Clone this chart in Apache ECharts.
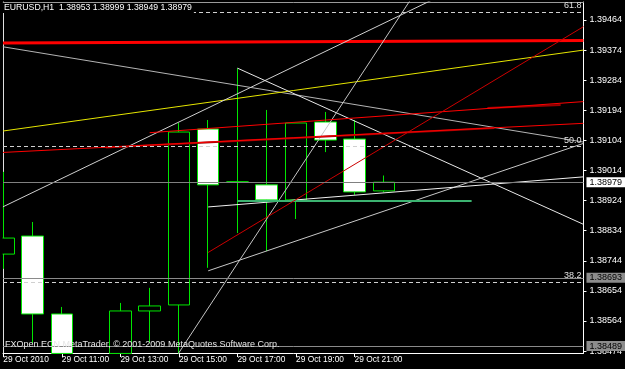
<!DOCTYPE html>
<html><head><meta charset="utf-8">
<script src="https://cdn.jsdelivr.net/npm/echarts@6/dist/echarts.min.js"></script>
<style>html,body{margin:0;padding:0;background:#000;}#c{width:625px;height:369px;}</style>
</head><body><div id="c"></div>
<script>
// ---- data ----
const symbolName = 'EURUSD,H1';
const hours  = [9, 10, 11, 12, 13, 14, 15, 16, 17, 18, 19, 20, 21, 22];
const opens  = [1.38764, 1.38818, 1.38585, 1.38440, 1.38467, 1.38594, 1.38612, 1.39138, 1.38980, 1.38971, 1.38926, 1.39159, 1.39108, 1.38953];
const highs  = [1.39010, 1.38860, 1.38606, 1.38462, 1.38618, 1.38663, 1.39156, 1.39165, 1.39320, 1.39195, 1.39156, 1.39189, 1.39165, 1.38999];
const lows   = [1.38720, 1.38498, 1.38466, 1.38420, 1.38466, 1.38498, 1.38466, 1.38723, 1.38827, 1.38773, 1.38869, 1.39069, 1.38941, 1.38949];
const closes = [1.38812, 1.38585, 1.38467, 1.38455, 1.38594, 1.38609, 1.39129, 1.38971, 1.38980, 1.38926, 1.39156, 1.39105, 1.38950, 1.38979];

const xTickValues = [9, 11, 13, 15, 17, 19, 21];
const xTickLabels = ['29 Oct 2010', '29 Oct 11:00', '29 Oct 13:00', '29 Oct 15:00', '29 Oct 17:00', '29 Oct 19:00', '29 Oct 21:00'];
const yTickValues = [1.38474, 1.38564, 1.38654, 1.38744, 1.38834, 1.38924, 1.39014, 1.39104, 1.39194, 1.39284, 1.39374, 1.39464];

const grayLevels = [1.38693, 1.38489];
const fibLabels = ['61.8', '50.0', '38.2'];
const fibPrices = [1.39488, 1.39085, 1.38681];

// trend lines: [[hour, price], [hour, price]]
const redThick     = [[8.99, 1.39395], [28.82, 1.39403]];
const grayDiag     = [[8.98, 1.39384], [28.82, 1.39099]];
const yellowLine   = [[8.99, 1.39132], [28.82, 1.39374]];
const whiteUp      = [[8.98, 1.38905], [23.652, 1.39524]];
const whiteDown    = [[17, 1.39320], [28.82, 1.38853]];
const steepWhite   = [[13.94, 1.38328], [22.909, 1.39524]];
const lowerChannel = [[16, 1.38714], [28.82, 1.39095]];
const upperChannel = [[16, 1.38905], [28.82, 1.38995]];
const greenLevel   = [[17, 1.38923], [25, 1.38923]];
const darkRedA     = [[12.5, 1.39083], [25.78, 1.39141]];
const redA         = [[8.99, 1.39068], [28.82, 1.39155]];
const darkRedB     = [[25.54, 1.39201], [28.04, 1.39210]];
const redB         = [[14, 1.39127], [28.82, 1.39220]];
const steepRed     = [[16, 1.38769], [28.82, 1.39444]];

// ---- chart ----
const FONT = 'Liberation Sans';
const candleData = hours.map((h, i) => [h, opens[i], closes[i], lows[i], highs[i]]);
const n = hours.length - 1;
const titleText = symbolName + '  ' + [opens[n], highs[n], lows[n], closes[n]].map(v => v.toFixed(5)).join(' ');

function tl(data, color, width, z) {
  return {type: 'line', data: data, symbol: 'none', silent: true, z: z || 3,
    lineStyle: {color: color, width: width || 1}, animation: false};
}

const markData = [];
fibPrices.forEach((v, i) => markData.push({yAxis: v, lineStyle: {color: '#d0d0d0', type: [4, 3], width: 1},
  label: {show: true, position: 'insideEndTop', distance: 2, formatter: fibLabels[i],
    color: '#e0e0e0', fontSize: 9, fontFamily: FONT}}));
grayLevels.forEach(v => markData.push({yAxis: v, lineStyle: {color: '#8a8a8a', type: 'solid', width: 1},
  label: {show: true, position: 'end', distance: 3, formatter: v.toFixed(5),
    backgroundColor: '#8c8c8c', color: '#000', fontSize: 9, fontFamily: FONT, padding: [1, 4, 0, 3], lineHeight: 9}}));
markData.push({yAxis: closes[n], lineStyle: {color: '#808080', type: 'solid', width: 1},
  label: {show: true, position: 'end', distance: 3, formatter: closes[n].toFixed(5),
    backgroundColor: '#ffffff', color: '#000', fontSize: 9, fontFamily: FONT, padding: [1, 4, 0, 3], lineHeight: 9}});

const chart = echarts.init(document.getElementById('c'), null, {renderer: 'canvas'});
chart.setOption({
  animation: false,
  backgroundColor: '#000000',
  grid: {left: 3, right: 35, top: 2, bottom: 16, containLabel: false},
  xAxis: [{
    type: 'value', min: 8.98986, max: 28.821, position: 'bottom',
    splitLine: {show: false},
    axisLine: {show: true, onZero: false, lineStyle: {color: '#ffffff'}},
    axisTick: {show: true, length: 4, customValues: xTickValues, lineStyle: {color: '#ffffff'}},
    axisLabel: {show: true, customValues: xTickValues, margin: 3, align: 'left', color: '#ffffff',
      fontSize: 8.4, fontFamily: FONT, hideOverlap: false,
      formatter: v => { const k = xTickValues.indexOf(Math.round(v)); return k >= 0 ? xTickLabels[k] : ''; }}
  }, {
    type: 'value', min: 8.98986, max: 28.821, position: 'top',
    splitLine: {show: false}, axisTick: {show: false}, axisLabel: {show: false},
    axisLine: {show: true, onZero: false, lineStyle: {color: '#9a9a9a'}}
  }],
  yAxis: [{
    type: 'value', position: 'right', min: 1.384683, max: 1.395178, scale: true,
    splitLine: {show: false},
    axisLine: {show: true, onZero: false, lineStyle: {color: '#ffffff'}},
    axisTick: {show: true, length: 3, customValues: yTickValues, lineStyle: {color: '#ffffff'}},
    axisLabel: {show: true, customValues: yTickValues, margin: 6, color: '#ffffff', fontSize: 9, fontFamily: FONT,
      formatter: v => v.toFixed(5)}
  }, {
    type: 'value', position: 'left', min: 1.384683, max: 1.395178, scale: true,
    splitLine: {show: false}, axisTick: {show: false}, axisLabel: {show: false},
    axisLine: {show: true, onZero: false, lineStyle: {color: '#e0e0e0'}}
  }],
  graphic: [
    {type: 'rect', left: 0, top: 0, z: 50, shape: {width: 2.6, height: 353}, style: {fill: '#000'}},
    {type: 'text', left: 3, top: 3, z: 100, style: {text: titleText, fill: '#ffffff', font: '8.7px ' + FONT,
      backgroundColor: '#000', padding: [0, 2, 1, 1]}},
    {type: 'text', left: 5, top: 340, z: 100, style: {text: 'FXOpen ECN MetaTrader, \u00a9 2001-2009 MetaQuotes Software Corp.',
      fill: '#e6e6e6', font: '9px ' + FONT}}
  ],
  series: [
    {
      type: 'candlestick', data: candleData, encode: {x: 0, y: [1, 2, 3, 4]},
      barWidth: 22, z: 2, silent: true, clip: true,
      itemStyle: {color: '#000000', color0: '#ffffff', borderColor: '#00e600', borderColor0: '#00e600', borderWidth: 1}
    },
    {
      type: 'line', data: [], z: 4, silent: true,
      markLine: {symbol: 'none', silent: true, animation: false, precision: 5, data: markData}
    },
    tl(redThick, '#ff0000', 3),
    tl(grayDiag, '#b4b4b4', 1),
    tl(yellowLine, '#e6e600', 1),
    tl(whiteUp, '#d0d0d0', 1),
    tl(whiteDown, '#e8e8e8', 1),
    tl(steepWhite, '#c4c4c4', 1),
    tl(lowerChannel, '#c8c8c8', 1),
    tl(upperChannel, '#f0f0f0', 1),
    tl(greenLevel, '#3cb371', 2),
    tl(darkRedA, '#9a0000', 2),
    tl(redA, '#ff0000', 1),
    tl(darkRedB, '#9a0000', 2),
    tl(redB, '#ff0000', 1),
    tl(steepRed, '#cc0000', 1)
  ]
});
</script></body></html>
